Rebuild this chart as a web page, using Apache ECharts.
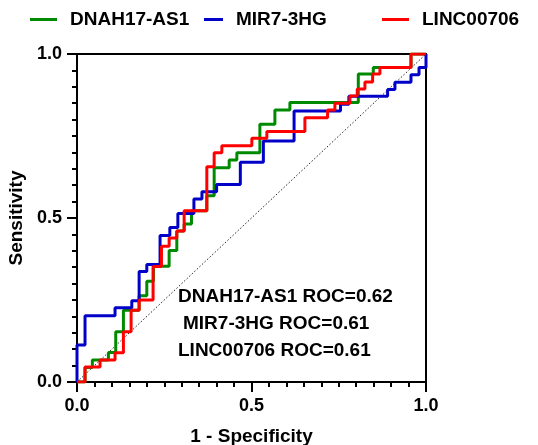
<!DOCTYPE html>
<html><head><meta charset="utf-8">
<script src="https://cdn.jsdelivr.net/npm/echarts@6/dist/echarts.min.js"></script>
<style>html,body{margin:0;padding:0;background:#fff}#c{width:538px;height:445px}</style>
</head><body><div id="c"></div>
<script>
// Data (stair corners: 1-specificity, sensitivity)
const seriesNames = ['DNAH17-AS1', 'MIR7-3HG', 'LINC00706'];
const dnahFpr = [0,0.023,0.044,0.09,0.111,0.133,0.178,0.2,0.219,0.264,0.286,0.307,0.328,0.372,0.393,0.436,0.458,0.524,0.567,0.61,0.806,0.849,0.957,1];
const dnahTpr = [0,0.044,0.067,0.09,0.153,0.219,0.263,0.307,0.353,0.401,0.46,0.482,0.522,0.568,0.653,0.677,0.699,0.786,0.829,0.852,0.939,0.959,1,1];
const mirFpr = [0,0,0.023,0.109,0.157,0.178,0.2,0.238,0.266,0.289,0.335,0.358,0.4,0.468,0.534,0.622,0.755,0.779,0.89,0.911,0.957,0.98,1];
const mirTpr = [0,0.113,0.202,0.226,0.248,0.337,0.358,0.447,0.471,0.514,0.558,0.58,0.602,0.67,0.735,0.826,0.847,0.871,0.892,0.914,0.937,0.959,1];
const lincFpr = [0,0.023,0.066,0.109,0.133,0.155,0.178,0.218,0.242,0.264,0.286,0.307,0.372,0.393,0.415,0.501,0.544,0.653,0.718,0.739,0.782,0.803,0.825,0.847,0.868,0.957,1];
const lincTpr = [0,0.046,0.067,0.089,0.153,0.219,0.25,0.352,0.414,0.439,0.46,0.522,0.656,0.699,0.72,0.743,0.764,0.806,0.829,0.85,0.872,0.893,0.915,0.939,0.959,1,1];
const aucLabels = ['DNAH17-AS1 ROC=0.62', 'MIR7-3HG ROC=0.61', 'LINC00706 ROC=0.61'];
const refLine = [[0,0],[1,1]];

const colors = ['#008a00', '#0000c8', '#ff0000'];
const font = 'Liberation Sans, Arial, sans-serif';
function pts(xs, ys){ return xs.map((x,i)=>[x, ys[i]]); }
const curves = [pts(dnahFpr,dnahTpr), pts(mirFpr,mirTpr), pts(lincFpr,lincTpr)];

const chart = echarts.init(document.getElementById('c'));
const axisCommon = {
  type: 'value', min: 0, max: 1, interval: 0.5,
  axisLine: {show: true, lineStyle: {color: '#000', width: 2}},
  axisTick: {show: true, length: 10, lineStyle: {color: '#000', width: 2}},
  splitLine: {show: false},
  axisLabel: {color: '#000', fontFamily: font, fontWeight: 'bold', fontSize: 18, margin: 15,
    formatter: v => v.toFixed(1)},
  nameTextStyle: {color: '#000', fontFamily: font, fontWeight: 'bold', fontSize: 19},
  nameLocation: 'middle'
};
const minorAxis = {
  type: 'value', min: 0, max: 1, interval: 0.05,
  axisLine: {show: false}, splitLine: {show: false}, axisLabel: {show: false},
  axisTick: {show: true, length: 5, lineStyle: {color: '#000', width: 2}}
};
const legendCommon = {top: 10, padding: 0, itemWidth: 27, itemHeight: 3, icon: 'rect',
  textStyle: {color: '#000', fontFamily: font, fontWeight: 'bold', fontSize: 19, padding: [0,0,0,8]}};

chart.setOption({
  animation: false,
  grid: {left: 77, right: 112, top: 54, bottom: 63, containLabel: false, outerBoundsMode: 'none',
    show: true, borderColor: '#000', borderWidth: 2, backgroundColor: 'transparent'},
  xAxis: [
    Object.assign({}, axisCommon, {name: '1 - Specificity', nameGap: 45}),
    Object.assign({}, minorAxis, {position: 'bottom'})
  ],
  yAxis: [
    Object.assign({}, axisCommon, {name: 'Sensitivity', nameGap: 49}),
    Object.assign({}, minorAxis, {position: 'left'})
  ],
  legend: [
    Object.assign({}, legendCommon, {left: 30, data: [seriesNames[0]]}),
    Object.assign({}, legendCommon, {left: 204, itemWidth: 19, data: [seriesNames[1]]}),
    Object.assign({}, legendCommon, {left: 382, data: [seriesNames[2]]})
  ],
  series: [
    {type: 'line', data: refLine, symbol: 'none', silent: true, z: 1,
      lineStyle: {color: '#222', width: 1, type: [1.5, 2]}},
  ].concat(curves.map((d, i) => ({
    name: seriesNames[i], type: 'line', step: 'end', data: d, symbol: 'none', z: 2 + i,
    color: colors[i], lineStyle: {color: colors[i], width: 3}
  }))),
  graphic: aucLabels.map((t, i) => ({
    type: 'text', left: [178, 183, 178][i], top: 287 + i * 27,
    style: {text: t, fill: '#000', font: 'bold 19px ' + font}
  }))
});
</script></body></html>
